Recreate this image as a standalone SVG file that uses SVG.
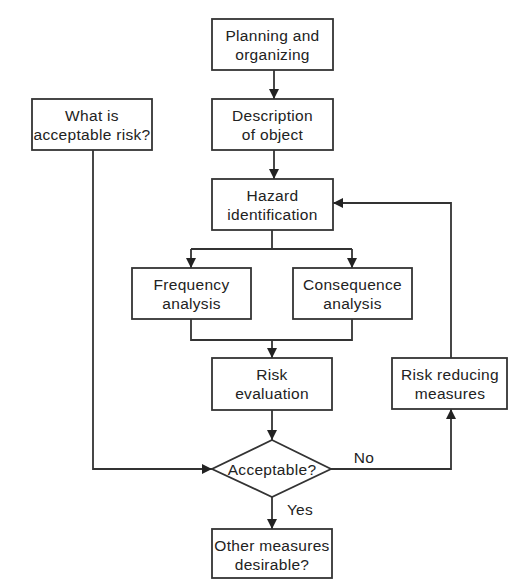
<svg xmlns="http://www.w3.org/2000/svg" width="508" height="579" viewBox="0 0 508 579">
<defs>
<marker id="ah" viewBox="0 0 10 10" refX="10" refY="5" markerWidth="10" markerHeight="10" markerUnits="userSpaceOnUse" orient="auto">
<path d="M0,0 L10,5 L0,10 z" fill="#222"/>
</marker>
<style>
.box{fill:#fff;stroke:#333;stroke-width:1.8}
.t{font-family:"Liberation Sans",Arial,sans-serif;font-size:15.5px;fill:#222;text-anchor:middle;letter-spacing:0.3px}
.c{fill:none;stroke:#333;stroke-width:1.8}
</style>
</defs>
<rect width="508" height="579" fill="#fff"/>
<g id="connectors">
<path class="c" d="M274,70 V99" marker-end="url(#ah)"/>
<path class="c" d="M274,150 V179" marker-end="url(#ah)"/>
<path class="c" d="M272,230 V249"/>
<path class="c" d="M191,249 H352"/>
<path class="c" d="M191,249 V268" marker-end="url(#ah)"/>
<path class="c" d="M352,249 V268" marker-end="url(#ah)"/>
<path class="c" d="M191,319 V340 H352 V319"/>
<path class="c" d="M272,340 V358" marker-end="url(#ah)"/>
<path class="c" d="M272,410 V440" marker-end="url(#ah)"/>
<path class="c" d="M93,150 V469 H212" marker-end="url(#ah)"/>
<path class="c" d="M272,497 V529" marker-end="url(#ah)"/>
<path class="c" d="M331,469 H451 V409" marker-end="url(#ah)"/>
<path class="c" d="M451,358 V203 H333" marker-end="url(#ah)"/>
<text class="t" x="364" y="463">No</text>
<text class="t" x="300" y="515">Yes</text>
</g>
<g id="planning">
<rect class="box" x="212" y="19" width="121" height="51"/>
<text class="t" x="272.5" y="41">Planning and</text>
<text class="t" x="272.5" y="60">organizing</text>
</g>
<g id="description">
<rect class="box" x="212" y="99" width="121" height="51"/>
<text class="t" x="272.5" y="121">Description</text>
<text class="t" x="272.5" y="140">of object</text>
</g>
<g id="acceptable-risk">
<rect class="box" x="32" y="99" width="120" height="51"/>
<text class="t" x="92" y="121">What is</text>
<text class="t" x="92" y="140">acceptable risk?</text>
</g>
<g id="hazard">
<rect class="box" x="212" y="179" width="121" height="51"/>
<text class="t" x="272.5" y="201">Hazard</text>
<text class="t" x="272.5" y="220">identification</text>
</g>
<g id="frequency">
<rect class="box" x="132" y="268" width="119" height="51"/>
<text class="t" x="191.5" y="290">Frequency</text>
<text class="t" x="191.5" y="309">analysis</text>
</g>
<g id="consequence">
<rect class="box" x="293" y="268" width="119" height="51"/>
<text class="t" x="352.5" y="290">Consequence</text>
<text class="t" x="352.5" y="309">analysis</text>
</g>
<g id="risk-evaluation">
<rect class="box" x="212" y="358" width="120" height="52"/>
<text class="t" x="272" y="380">Risk</text>
<text class="t" x="272" y="399">evaluation</text>
</g>
<g id="risk-reducing">
<rect class="box" x="392" y="358" width="115" height="51"/>
<text class="t" x="450" y="380">Risk reducing</text>
<text class="t" x="450" y="399">measures</text>
</g>
<g id="acceptable">
<polygon class="box" points="272,440 331,469 272,497 212,469"/>
<text class="t" x="272" y="475">Acceptable?</text>
</g>
<g id="other-measures">
<rect class="box" x="212" y="529" width="120" height="49"/>
<text class="t" x="272" y="551">Other measures</text>
<text class="t" x="272" y="570">desirable?</text>
</g>
</svg>
